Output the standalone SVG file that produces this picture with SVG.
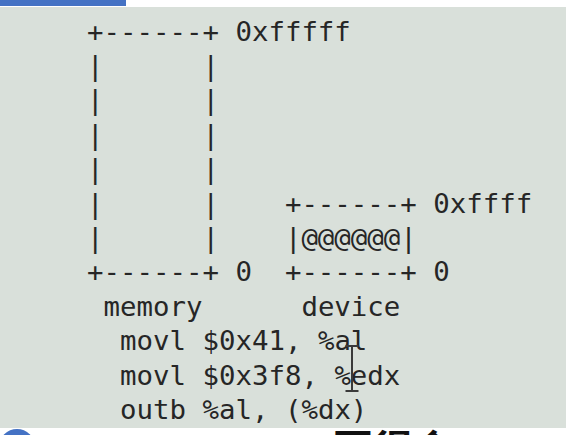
<svg xmlns="http://www.w3.org/2000/svg" width="580" height="435" viewBox="0 0 580 435">
  <style>
    .t { font-family: "DejaVu Sans Mono", "Liberation Mono", monospace; font-size: 27.4px; fill: #262626; white-space: pre; }
    .cjk { font-family: "Noto Sans CJK SC", sans-serif; font-size: 40px; font-weight: bold; fill: #111; }
  </style>
  <defs>
    <clipPath id="below"><rect x="0" y="428" width="580" height="7"/></clipPath>
  </defs>
  <rect x="0" y="0" width="580" height="435" fill="#ffffff"/>
  <rect x="0" y="0" width="126" height="6" fill="#4472c4"/>
  <rect x="0" y="7" width="566" height="421" fill="#d9e0da"/>
  <circle cx="17" cy="447" r="18" fill="#4472c4"/>
  <g id="memory" xml:space="preserve">
    <text class="t" x="87" y="40.5">+------+ 0xfffff</text>
    <text class="t" x="87" y="74.9">|      |</text>
    <text class="t" x="87" y="109.3">|      |</text>
    <text class="t" x="87" y="143.7">|      |</text>
    <text class="t" x="87" y="178.1">|      |</text>
    <text class="t" x="87" y="212.5">|      |</text>
    <text class="t" x="87" y="246.9">|      |</text>
    <text class="t" x="87" y="281.3">+------+ 0</text>
    <text class="t" x="87" y="315.7"> memory</text>
  </g>
  <g id="device" xml:space="preserve">
    <text class="t" x="284.9" y="212.5">+------+ 0xffff</text>
    <text class="t" x="284.9" y="246.9">|@@@@@@|</text>
    <text class="t" x="284.9" y="281.3">+------+ 0</text>
    <text class="t" x="301.4" y="315.7">device</text>
  </g>
  <g id="code" xml:space="preserve">
    <text class="t" x="120" y="350.1">movl $0x41, %al</text>
    <text class="t" x="120" y="384.5">movl $0x3f8, %edx</text>
    <text class="t" x="120" y="418.9">outb %al, (%dx)</text>
  </g>
  <g id="cursor" fill="none" stroke="#3a3a3a" stroke-width="2">
    <path d="M352 346 V391 M345.5 346 H358.5 M345.5 391 H358.5"/>
  </g>
  <g id="caption" clip-path="url(#below)">
    <text class="cjk" x="333" y="464">要得会</text>
  </g>
</svg>
